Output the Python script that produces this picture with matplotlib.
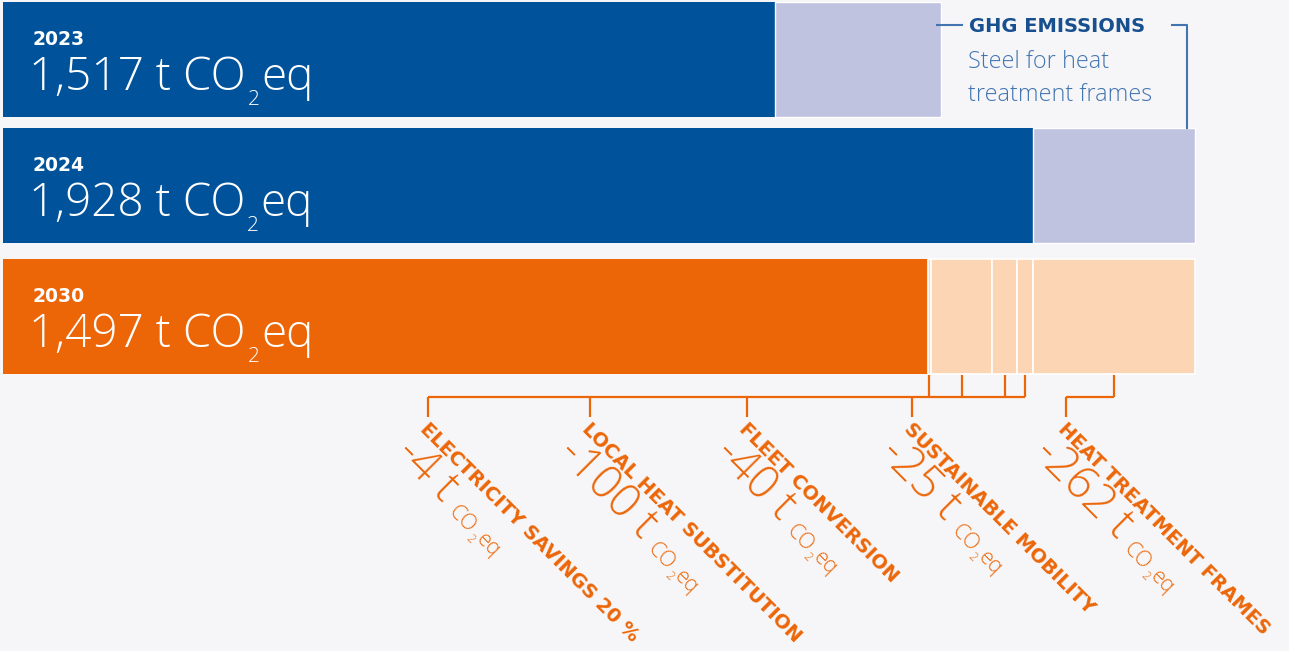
import math
import matplotlib
matplotlib.use('Agg')
import matplotlib.pyplot as plt
import matplotlib.transforms as mtransforms
from matplotlib.font_manager import FontProperties

# ---------------- data ----------------
years = ['2023', '2024', '2030']
totals = [1517, 1928, 1497]            # t CO2eq
steel_share = [268, 262]               # light part of 2023 / 2024 bars (steel for heat treatment frames)
measures = ['ELECTRICITY SAVINGS 20 %', 'LOCAL HEAT SUBSTITUTION', 'FLEET CONVERSION',
            'SUSTAINABLE MOBILITY', 'HEAT TREATMENT FRAMES']
reductions = [4, 100, 40, 25, 262]     # t CO2eq
ghg_title = 'GHG EMISSIONS'
ghg_sub = ['Steel for heat', 'treatment frames']

# ---------------- style ----------------
W, H, DPI = 1289, 651, 100
BG = '#f6f6f8'
DARK_BLUE = '#00529b'
LAVENDER = '#c0c3e0'
ORANGE = '#ec6608'
PEACH = '#fcd5b5'
GHG_DARK = '#174f8f'
GHG_MID = '#4275b0'
LIGHT_FAM = ['Open Sans', 'DejaVu Sans']
BOLD_FAM = ['DejaVu Sans']

fig = plt.figure(figsize=(W / DPI, H / DPI), dpi=DPI, facecolor=BG)
ax = fig.add_axes([0, 0, 1, 1])
ax.set_facecolor(BG)
ax.axis('off')

x0_px, px_per_t = 3, 0.618
ax.set_xlim(-x0_px / px_per_t, (W - x0_px) / px_per_t)
ax.set_ylim(H, 0)

# pixel coordinates measured from the top-left corner
pix = mtransforms.Affine2D().scale(1, -1).translate(0, H)
renderer = fig.canvas.get_renderer()


def run_text(x, y, pieces, angle, color):
    """Draw text pieces one after another along direction `angle`.
    pieces: (text, FontProperties, drop_px, gap_after_px)"""
    a = math.radians(angle)
    ux, uy = math.cos(a), -math.sin(a)        # along (screen, y down)
    dx, dy = math.sin(a), math.cos(a)         # text-down (screen, y down)
    pos = 0.0
    for s, fp, drop, gap in pieces:
        px = x + pos * ux + drop * dx
        py = y + pos * uy + drop * dy
        ax.text(px, py, s, transform=pix, fontproperties=fp, color=color, rotation=angle,
                rotation_mode='anchor', ha='left', va='baseline')
        w, _, _ = renderer.get_text_width_height_descent(s, fp, ismath=False)
        pos += w + gap


bar_tops = [2, 128, 259]
bar_h = 115
centers = [t + bar_h / 2 for t in bar_tops]

# 2023 / 2024 bars
for i in range(2):
    dark = totals[i] - steel_share[i]
    ax.barh(centers[i], dark, height=bar_h, left=0, color=DARK_BLUE, linewidth=0)
    ax.barh(centers[i], steel_share[i], height=bar_h, left=dark, color=LAVENDER,
            edgecolor='white', linewidth=1.0)

# 2030 bar + reduction segments
ax.barh(centers[2], totals[2], height=bar_h, left=0, color=ORANGE, linewidth=0)
lefts = []
acc = totals[2]
for r in reductions:
    lefts.append(acc)
    ax.barh(centers[2], r, height=bar_h, left=acc, color=PEACH, edgecolor='white', linewidth=1.2)
    acc += r

# in-bar texts
fp_year = FontProperties(family=BOLD_FAM, weight='bold', size=13.5)
fp_val = FontProperties(family=LIGHT_FAM, weight='light', size=33)
fp_val_sub = FontProperties(family=LIGHT_FAM, weight='light', size=15)
for i, (yr, v) in enumerate(zip(years, totals)):
    ax.text(32, bar_tops[i] + 43, yr, transform=pix, color='white', fontproperties=fp_year,
            va='baseline', ha='left')
    run_text(29, bar_tops[i] + 88,
             [(f'{v:,} t CO', fp_val, 0, 2), ('2', fp_val_sub, 15, 1.5), ('eq', fp_val, 0, 0)],
             0, 'white')

# GHG annotation
ax.plot([937, 962], [25, 25], color=GHG_MID, lw=1.5, transform=pix, clip_on=False)
ax.plot([1172, 1187, 1187], [25, 25, 128], color=GHG_MID, lw=1.5, transform=pix, clip_on=False)
ax.text(969, 27, ghg_title, transform=pix, color=GHG_DARK, fontsize=14, fontweight='bold',
        family=BOLD_FAM, va='center', ha='left')
for k, s in enumerate(ghg_sub):
    ax.text(968, 62 + 33 * k, s, transform=pix, color=GHG_MID, fontsize=16.8, fontweight='light',
            family=LIGHT_FAM, va='center', ha='left')

# connectors
seg_centers_px = [ax.transData.transform((l + r / 2, 0))[0] for l, r in zip(lefts, reductions)]
bar_bottom = bar_tops[2] + bar_h
hline_y, drop_end = 397, 417
drops_x = [428, 590, 747, 912, 1066]
groups = [[0, 1, 2, 3], [4]]
lkw = dict(color=ORANGE, lw=1.6, transform=pix, clip_on=False, solid_capstyle='butt')
for g in groups:
    for i in g:
        ax.plot([seg_centers_px[i]] * 2, [bar_bottom + 1, hline_y], **lkw)
        ax.plot([drops_x[i]] * 2, [hline_y, drop_end], **lkw)
    xs = [drops_x[i] for i in g] + [seg_centers_px[i] for i in g]
    ax.plot([min(xs), max(xs)], [hline_y, hline_y], **lkw)

# diagonal labels
ANG = -45
u = (math.cos(math.radians(ANG)), -math.sin(math.radians(ANG)))
d = (math.sin(math.radians(ANG)), math.cos(math.radians(ANG)))
fp_lab = FontProperties(family=BOLD_FAM, weight='bold', size=14)
fp_big = FontProperties(family=LIGHT_FAM, weight='light', size=33)
fp_small = FontProperties(family=LIGHT_FAM, weight='light', size=15.5)
fp_tiny = FontProperties(family=LIGHT_FAM, weight='light', size=8.5)
for i, (m, r) in enumerate(zip(measures, reductions)):
    ax0, ay0 = drops_x[i] + 2, 419
    ax.text(ax0, ay0, m, transform=pix, rotation=ANG, rotation_mode='anchor', ha='left', va='top',
            color=ORANGE, fontproperties=fp_lab)
    bx = ax0 + 0 * u[0] + 51 * d[0]
    by = ay0 + 0 * u[1] + 51 * d[1]
    run_text(bx, by, [(f'-{r} t', fp_big, 0, 11), ('CO', fp_small, 3, 1),
                      ('2', fp_tiny, 9, 1), ('eq', fp_small, 3, 0)], ANG, ORANGE)

fig.savefig('out.png', dpi=DPI, facecolor=BG)
